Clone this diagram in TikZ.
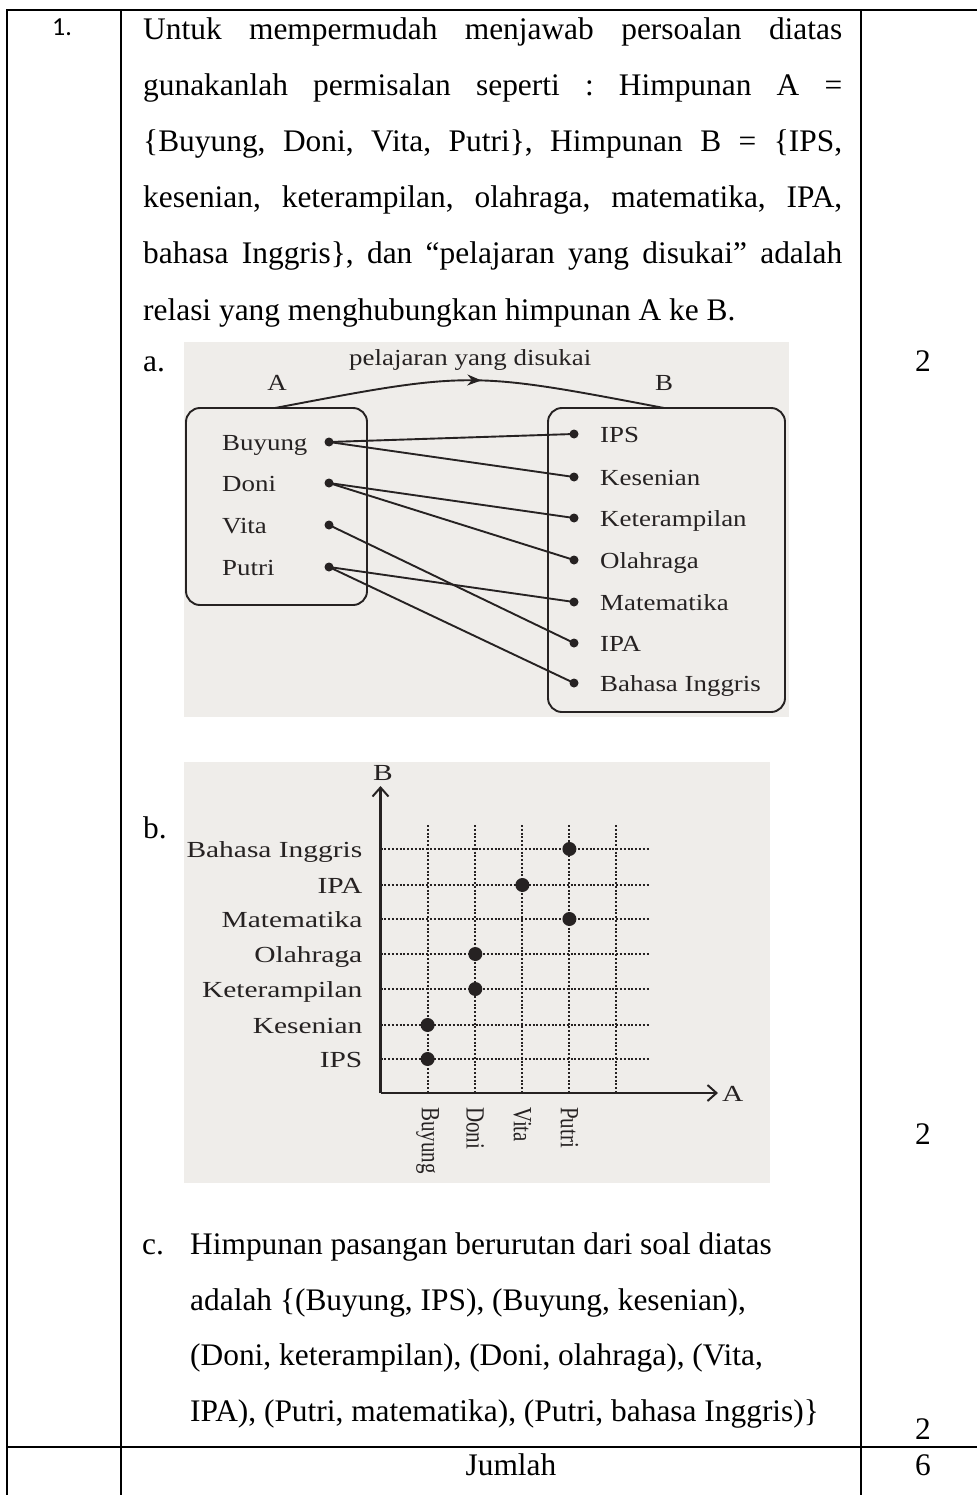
\documentclass[tikz,border=0pt]{standalone}
\usepackage{fontspec}
\usepackage{graphicx}
\setmainfont{Liberation Serif}
\newfontfamily\numfont{Carlito}
\usetikzlibrary{arrows.meta,decorations.markings}
\definecolor{bgpic}{RGB}{239,237,234}
\definecolor{ink}{RGB}{38,34,34}
\newcommand{\wa}[1]{\scalebox{1.17}[1]{#1}}
\newcommand{\wb}[1]{\scalebox{1.28}[1]{#1}}
\frenchspacing
\begin{document}
\begin{tikzpicture}[x=1pt,y=-1pt,
  tline/.style={line width=2pt,black},
  body/.style={anchor=base west,inner sep=0pt,font=\fontsize{31.4}{36}\selectfont},
  bodyc/.style={anchor=base,inner sep=0pt,font=\fontsize{31.4}{36}\selectfont},
  dline/.style={line width=1.9pt,ink},
  dot/.style={circle,fill=ink,inner sep=0pt,minimum size=9pt},
  bdot/.style={circle,fill=ink,inner sep=0pt,minimum size=14pt},
  lbl/.style={anchor=base west,inner sep=0pt,text=ink,font=\fontsize{23}{23}\selectfont},
  lblc/.style={anchor=base,inner sep=0pt,text=ink,font=\fontsize{23}{23}\selectfont},
  lble/.style={anchor=base east,inner sep=0pt,text=ink,font=\fontsize{23}{23}\selectfont},
  rot/.style={anchor=west,rotate=-90,inner sep=0pt,text=ink,font=\fontsize{21}{21}\selectfont},
  setbox/.style={draw=ink,line width=1.9pt,rounded corners=14pt,inner sep=0pt},
  grid/.style={line width=2pt,ink,dash pattern=on 2pt off 1.8pt},
  axis/.style={line width=2.4pt,ink},
  midarrow/.style={decoration={markings,mark=at position 0.53 with {\arrow{Stealth[length=14pt,width=11pt]}}},postaction=decorate}
]
\useasboundingbox (0,0) rectangle (977,1495);
\fill[white] (0,0) rectangle (977,1495);

% table rules
\draw[tline] (6,10) -- (977,10);
\draw[tline] (7,10) -- (7,1495);
\draw[tline] (121,10) -- (121,1495);
\draw[tline] (861,10) -- (861,1495);
\draw[tline] (6,1447) -- (977,1447);

% number
\node[anchor=base,inner sep=0pt,font=\numfont\fontsize{26}{28}\selectfont] (num) at (62,36) {1.};

% question text
\node[body] (l1) at (143,40) {\makebox[699pt][s]{Untuk mempermudah menjawab persoalan diatas}};
\node[body] (l2) at (143,96) {\makebox[699pt][s]{gunakanlah permisalan seperti : Himpunan A =}};
\node[body] (l3) at (143,152) {\makebox[699pt][s]{\{Buyung, Doni, Vita, Putri\}, Himpunan B = \{IPS,}};
\node[body] (l4) at (143,208) {\makebox[699pt][s]{kesenian, keterampilan, olahraga, matematika, IPA,}};
\node[body] (l5) at (143,264) {\makebox[699pt][s]{bahasa Inggris\}, dan “pelajaran yang disukai” adalah}};
\node[body] (l6) at (143,320) {relasi yang menghubungkan himpunan A ke B.};

\node[body] (la) at (143,371) {a.};
\node[body] (lb) at (143,838) {b.};
\node[body] (lc) at (142,1254) {c.};

% scores
\node[bodyc] (s1) at (923,371) {2};
\node[bodyc] (s2) at (923,1144) {2};
\node[bodyc] (s3) at (923,1439) {2};
\node[bodyc] (s4) at (923,1475) {6};
\node[bodyc] (jml) at (511,1475) {Jumlah};

% part c text
\node[body] (c1) at (190,1254) {Himpunan pasangan berurutan dari soal diatas};
\node[body] (c2) at (190,1310) {adalah \{(Buyung, IPS), (Buyung, kesenian),};
\node[body] (c3) at (190,1365) {(Doni, keterampilan), (Doni, olahraga), (Vita,};
\node[body] (c4) at (190,1421) {IPA), (Putri, matematika), (Putri, bahasa Inggris)\}};

% ===== diagram a =====
\fill[bgpic] (184,342) rectangle (789,717);
\node[setbox,minimum width=181pt,minimum height=197pt] (SA) at (276.5,506.5) {};
\node[setbox,minimum width=237pt,minimum height=304pt] (SB) at (666.5,560) {};
\coordinate (arcA) at (275,408);
\coordinate (arcB) at (664,408);
\draw[dline,midarrow] (arcA) .. controls (470,371) .. (arcB);
\node[lbl] (rel) at (349,365) {\wa{pelajaran yang disukai}};
\node[lblc] (nA) at (277,390) {\wa{A}};
\node[lblc] (nB) at (664,390) {\wa{B}};

\node[lbl] (tBuy) at (222,450) {\wa{Buyung}};
\node[lbl] (tDon) at (222,491) {\wa{Doni}};
\node[lbl] (tVit) at (222,533) {\wa{Vita}};
\node[lbl] (tPut) at (222,575) {\wa{Putri}};
\node[dot] (aBuy) at (329,442) {};
\node[dot] (aDon) at (329,483) {};
\node[dot] (aVit) at (329,525) {};
\node[dot] (aPut) at (329,567) {};

\node[dot] (bIPS) at (574,434) {};
\node[dot] (bKes) at (574,477) {};
\node[dot] (bKet) at (574,518) {};
\node[dot] (bOla) at (574,560) {};
\node[dot] (bMat) at (574,602) {};
\node[dot] (bIPA) at (574,643) {};
\node[dot] (bBah) at (574,683) {};
\node[lbl] (tIPS) at (600,442) {\wa{IPS}};
\node[lbl] (tKes) at (600,485) {\wa{Kesenian}};
\node[lbl] (tKet) at (600,526) {\wa{Keterampilan}};
\node[lbl] (tOla) at (600,568) {\wa{Olahraga}};
\node[lbl] (tMat) at (600,610) {\wa{Matematika}};
\node[lbl] (tIPA) at (600,651) {\wa{IPA}};
\node[lbl] (tBah) at (600,691) {\wa{Bahasa Inggris}};

\draw[dline] (aBuy.center) -- (bIPS.center);
\draw[dline] (aBuy.center) -- (bKes.center);
\draw[dline] (aDon.center) -- (bKet.center);
\draw[dline] (aDon.center) -- (bOla.center);
\draw[dline] (aVit.center) -- (bIPA.center);
\draw[dline] (aPut.center) -- (bMat.center);
\draw[dline] (aPut.center) -- (bBah.center);

% ===== diagram b =====
\fill[bgpic] (184,762) rectangle (770,1183);
\coordinate (O) at (380.5,1093);
\coordinate (Ytip) at (380.5,786);
\coordinate (Xtip) at (718,1093);
\foreach \gx in {427.6,475.3,522.4,569.4,616.4}{
  \draw[grid] (\gx,825) -- (\gx,1093);
}
\foreach \gy in {849,885,919,954,989,1025,1059}{
  \draw[grid] (380.5,\gy) -- (650,\gy);
}
\draw[axis,-{Straight Barb[length=9pt,width=16pt,line width=2pt]}] (O) -- (Ytip);
\draw[axis,-{Straight Barb[length=9pt,width=16pt,line width=2pt]}] (O) -- (Xtip);
\node[lblc] (axB) at (383,780) {\wb{B}};
\node[lbl] (axA) at (722,1101) {\wb{A}};

\node[lble] (yBah) at (362.5,857) {\wb{Bahasa Inggris}};
\node[lble] (yIPA) at (362.5,893) {\wb{IPA}};
\node[lble] (yMat) at (362.5,927) {\wb{Matematika}};
\node[lble] (yOla) at (362.5,962) {\wb{Olahraga}};
\node[lble] (yKet) at (362.5,997) {\wb{Keterampilan}};
\node[lble] (yKes) at (362.5,1033) {\wb{Kesenian}};
\node[lble] (yIPS) at (362.5,1067) {\wb{IPS}};

\node[rot] (xBuy) at (427.6,1107) {\scalebox{1}[1.25]{Buyung}};
\node[rot] (xDon) at (475.3,1107) {\scalebox{1}[1.25]{Doni}};
\node[rot] (xVit) at (522.4,1107) {\scalebox{1}[1.25]{Vita}};
\node[rot] (xPut) at (569.4,1107) {\scalebox{1}[1.25]{Putri}};

\node[bdot] (p1) at (427.6,1059) {};
\node[bdot] (p2) at (427.6,1025) {};
\node[bdot] (p3) at (475.3,989) {};
\node[bdot] (p4) at (475.3,954) {};
\node[bdot] (p5) at (522.4,885) {};
\node[bdot] (p6) at (569.4,919) {};
\node[bdot] (p7) at (569.4,849) {};
\end{tikzpicture}
\end{document}
